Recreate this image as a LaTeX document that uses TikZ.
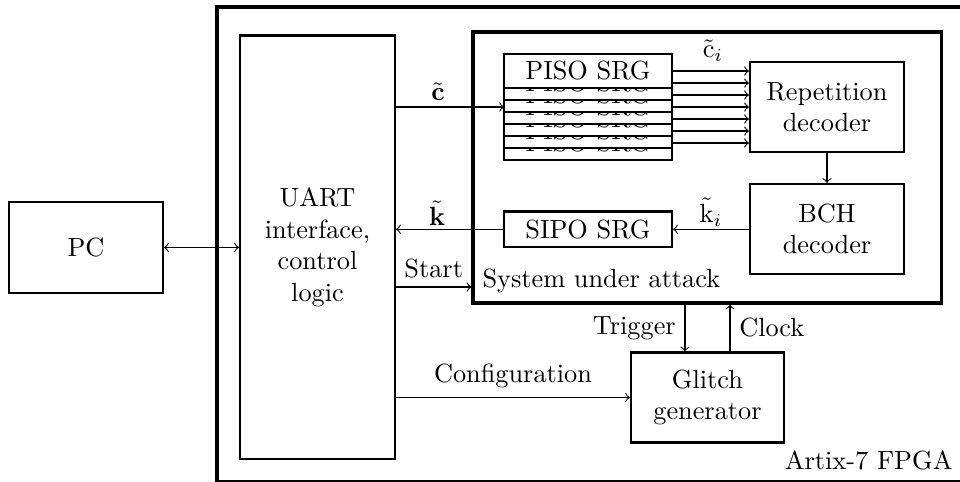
\documentclass[tikz,border=0pt]{standalone}
\usepackage{amsmath}
\begin{document}
\def\pxu{0.3802pt}
\begin{tikzpicture}[x=\pxu, y=-\pxu,
  box/.style={draw, thick, align=center, inner sep=0pt, fill=white},
  conn/.style={->}]
\useasboundingbox (0,0) rectangle (960,482);
% FPGA frame (clipped at right and bottom)
\draw[ultra thick] (217,7.3) rectangle (990,482.5);
\node[anchor=base east, inner sep=0pt] (fpga) at (953,470) {Artix-7 FPGA};
% PC and UART
\node[box, minimum width={154*\pxu}, minimum height={91*\pxu}] (pc) at (86,247.5) {PC};
\node[box, minimum width={155*\pxu}, minimum height={423.5*\pxu}] (uart) at (317.5,247.25) {UART\\interface,\\control\\logic};
% System under attack
\node[draw, very thick, minimum width={468.5*\pxu}, minimum height={271*\pxu}] (sys) at (707.25,167.5) {};
\node[anchor=west, inner sep=0pt] (sua) at (482,281) {System under attack};
% PISO stack
\foreach \k in {6,...,0}
  \node[box, minimum width={168*\pxu}, minimum height={34.5*\pxu}] (piso\k) at (588,71+12*\k) {PISO SRG};
\node[box, minimum width={154*\pxu}, minimum height={90*\pxu}] (rep) at (827,107) {Repetition\\decoder};
\node[box, minimum width={154*\pxu}, minimum height={90*\pxu}] (bch) at (827,229) {BCH\\decoder};
\node[box, minimum width={168*\pxu}, minimum height={35.5*\pxu}] (sipo) at (588,229.25) {SIPO SRG};
\node[box, minimum width={153*\pxu}, minimum height={90*\pxu}] (glitch) at (707.5,397.5) {Glitch\\generator};
% labels
\node (ct) at (438,92) {$\tilde{\mathbf{c}}$};
\node (kt) at (437,213) {$\tilde{\mathbf{k}}$};
\node (cti) at (713,51) {$\tilde{\mathrm{c}}_i$};
\node (kti) at (711,212) {$\tilde{\mathrm{k}}_i$};
% connectors
\draw[<->] (pc.east) -- (pc.east -| uart.west);
\coordinate (cin) at (504,107);
\draw[conn] (cin -| uart.east) -- (cin);
\foreach \k in {0,...,6}
  \draw[conn] (piso\k.east) -- (piso\k.east -| rep.west);
\draw[conn] (rep.south) -- (bch.north);
\draw[conn] (sipo.east -| bch.west) -- (sipo.east);
\draw[conn] (sipo.west) -- (sipo.west -| uart.east);
\coordinate (st) at (0,287);
\draw[conn] (st -| uart.east) -- (st -| sys.west) node[midway, above] {Start};
\draw[conn] (glitch.west -| uart.east) -- (glitch.west) node[midway, above] {Configuration};
\coordinate (tx) at (685,0);
\draw[conn] (sys.south -| tx) -- (glitch.north -| tx) node[midway, left] {Trigger};
\coordinate (cx) at (730,0);
\draw[conn] (glitch.north -| cx) -- (sys.south -| cx) node[midway, right] {Clock};
\end{tikzpicture}
\end{document}
